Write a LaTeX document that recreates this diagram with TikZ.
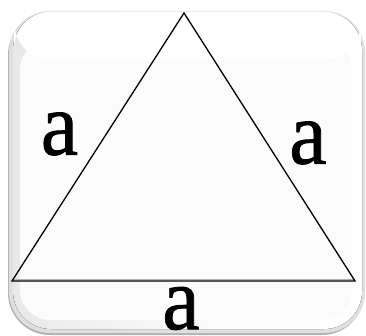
\documentclass[tikz,border=0pt]{standalone}
\usepackage{fontspec}
\setmainfont{Liberation Serif}
\newfontfamily\tnr[FakeBold=0.9]{Liberation Serif}
\begin{document}
\begin{tikzpicture}[x=1pt,y=-1pt,
  edge/.style={line width=1.3pt,black},
  lbl/.style={inner sep=0pt,font=\tnr\fontsize{84}{84}\selectfont}]
\useasboundingbox (0,0) rectangle (366,336);
% frame
\fill[gray!60,rounded corners=42pt] (8,13) rectangle (364,335);
\fill[gray!25,rounded corners=41pt] (9,11) rectangle (365,333);
\fill[left color=gray!18,right color=white,middle color=white!96!gray,rounded corners=38pt] (13,12) rectangle (362,329);
\fill[white!97!gray,rounded corners=30pt] (20,40) rectangle (352,320);
\fill[white,rounded corners=38pt] (14,11.5) -- (14,60) -- (361,60) -- (361,11.5) -- cycle;
% triangle
\coordinate (A) at (184,13);
\coordinate (B) at (12,281);
\coordinate (C) at (355,281);
\draw[gray!60,line width=1pt] ([yshift=1.6pt]B) -- ([yshift=1.6pt]C);
\draw[edge,line join=miter] (A) -- (B) -- (C) -- cycle;
\node[lbl] (la) at (59.5,134) {\scalebox{1}[1.07]{a}};
\node[lbl] (lb) at (308,143) {\scalebox{1}[1.07]{a}};
\node[lbl] (lc) at (181,308.5) {\scalebox{1}[1.07]{a}};
\end{tikzpicture}
\end{document}
